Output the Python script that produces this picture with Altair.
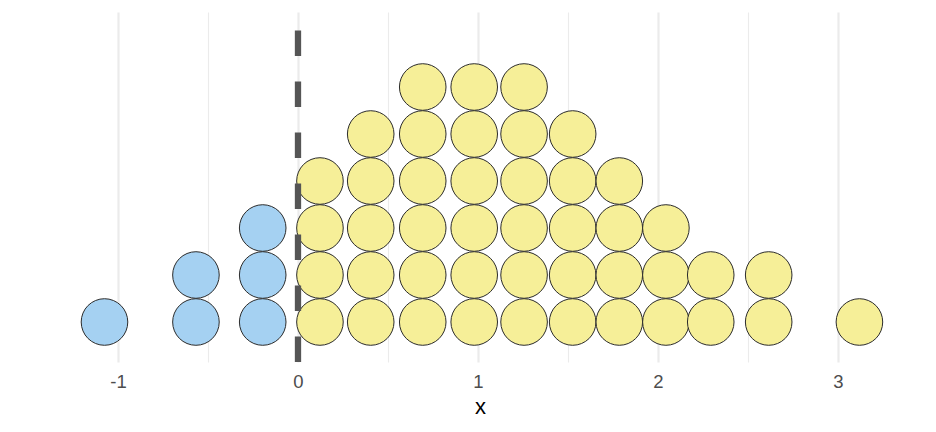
import altair as alt
import pandas as pd

# Column centres (x value of each stack) and number of dots in each stack
x_centers = [-1.075, -0.567, -0.196, 0.122, 0.404, 0.693, 0.979, 1.256,
             1.526, 1.785, 2.044, 2.293, 2.615, 3.119]
stack_counts = [1, 2, 3, 4, 5, 6, 6, 6, 5, 4, 3, 2, 2, 1]
group_domain = ["neg", "pos"]
group_colors = ["#A5D1F2", "#F6EF98"]
tick_values = [-1, -0.5, 0, 0.5, 1, 1.5, 2, 2.5, 3]
ref_line = [0]

rows = []
for xc, n in zip(x_centers, stack_counts):
    g = "neg" if xc < 0 else "pos"
    for k in range(n):
        rows.append({"x": xc, "k": k, "g": g})
df = pd.DataFrame(rows)

FONT = "Liberation Sans"
x_scale = alt.Scale(domain=[-1.4333, 3.4556], nice=False, zero=False)
y_scale = alt.Scale(domain=[-0.851, 6.596], nice=False, zero=False)

x_axis = alt.Axis(
    values=tick_values,
    title="x",
    grid=True,
    gridColor="#EBEBEB",
    gridWidth={"condition": {"test": "datum.value % 1 === 0", "value": 2.2}, "value": 1.1},
    domain=False,
    ticks=False,
    tickSize=0,
    labelExpr="datum.value % 1 === 0 ? toString(datum.value) : ''",
    labelFont=FONT,
    labelFontSize=18.5,
    labelColor="#4D4D4D",
    labelPadding=10,
    titleFont=FONT,
    titleFontSize=22,
    titleFontWeight="normal",
    titleColor="#000000",
    titlePadding=6,
)

dots = alt.Chart(df).mark_circle(
    size=2170, opacity=1, stroke="#2B2B2B", strokeWidth=1
).encode(
    x=alt.X("x:Q", scale=x_scale, axis=x_axis),
    y=alt.Y("k:Q", scale=y_scale, axis=None),
    color=alt.Color("g:N", scale=alt.Scale(domain=group_domain, range=group_colors), legend=None),
)

ref = alt.Chart(pd.DataFrame({"x": ref_line})).mark_rule(
    color="#555555", strokeWidth=6.3, strokeDash=[25.5, 25.5], strokeCap="butt"
).encode(
    x=alt.X("x:Q", scale=x_scale, axis=x_axis),
    # full panel span, drawn from the bottom edge up
    y=alt.value(350),
    y2=alt.value(0),
)

chart = alt.layer(dots, ref).properties(
    width=880,
    height=350,
    autosize=alt.AutoSizeParams(type="none"),
    padding={"left": 32, "top": 4, "right": 0, "bottom": 60},
    background="white",
).configure_view(stroke=None)

chart.save("out.html", embed_options={"renderer": "svg", "actions": False})
